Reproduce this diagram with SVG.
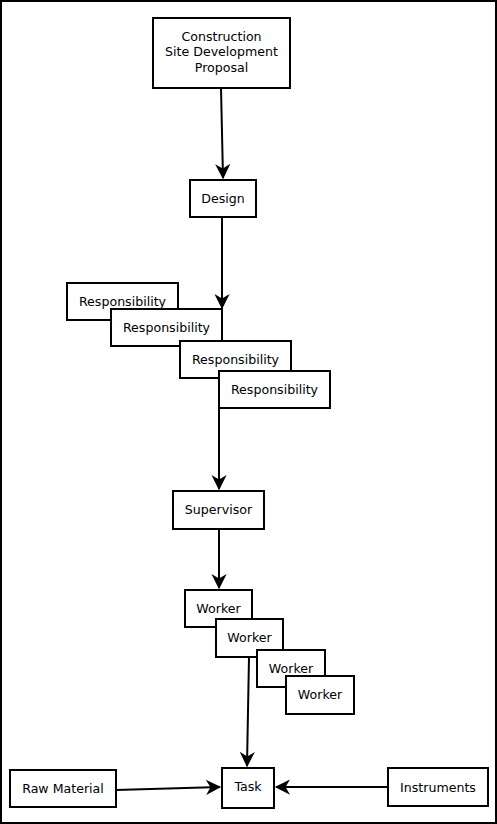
<svg xmlns="http://www.w3.org/2000/svg" width="497" height="824" viewBox="0 0 497 824">
<style>
.b{fill:#fff;stroke:#000;stroke-width:2}
.t{font-family:"DejaVu Sans",sans-serif;font-size:12.6px;fill:#000;text-anchor:middle}
.c{stroke:#000;stroke-width:2;fill:none;marker-end:url(#ah)}
</style>
<defs>
<marker id="ah" viewBox="0 0 10 10" refX="9" refY="5" markerWidth="8" markerHeight="8" markerUnits="userSpaceOnUse" orient="auto" overflow="visible">
<path d="M0,0 L10,5 L0,10 L3,5 Z" fill="#000" transform="scale(1.9) translate(-4.5,-2.4)"/>
</marker>
</defs>
<rect x="1" y="1" width="495" height="822" fill="#fff" stroke="#000" stroke-width="2"/>
<g id="connectors">
<path class="c" d="M221,88 L223,178"/>
<path class="c" d="M222,217 L222,308"/>
<path class="c" d="M219,408 L219,489"/>
<path class="c" d="M219,529 L219,588"/>
<path class="c" d="M249,657 L247,766"/>
<path class="c" d="M116,790 L220,787"/>
<path class="c" d="M388,787 L276,787"/>
</g>
<g id="proposal"><rect class="b" x="153" y="18" width="137" height="70"/><text class="t" x="221.5" y="41">Construction</text><text class="t" x="221.5" y="56">Site Development</text><text class="t" x="221.5" y="72">Proposal</text></g>
<g id="design"><rect class="b" x="190" y="180" width="66" height="37"/><text class="t" x="223" y="202.5">Design</text></g>
<g id="resp1"><rect class="b" x="67" y="283" width="111" height="37"/><text class="t" x="122.5" y="305.5">Responsibility</text></g>
<g id="resp2"><rect class="b" x="111" y="309" width="111" height="37"/><text class="t" x="166.5" y="331.5">Responsibility</text></g>
<g id="resp3"><rect class="b" x="180" y="341" width="111" height="37"/><text class="t" x="235.5" y="363.5">Responsibility</text></g>
<g id="resp4"><rect class="b" x="219" y="371" width="111" height="37"/><text class="t" x="274.5" y="393.5">Responsibility</text></g>
<g id="supervisor"><rect class="b" x="173" y="491" width="91" height="38"/><text class="t" x="218.5" y="514">Supervisor</text></g>
<g id="worker1"><rect class="b" x="185" y="590" width="67" height="37"/><text class="t" x="218.5" y="612.5">Worker</text></g>
<g id="worker2"><rect class="b" x="216" y="619" width="67" height="38"/><text class="t" x="249.5" y="642">Worker</text></g>
<g id="worker3"><rect class="b" x="257" y="650" width="68" height="37"/><text class="t" x="291" y="673">Worker</text></g>
<g id="worker4"><rect class="b" x="286" y="676" width="68" height="38"/><text class="t" x="320" y="699">Worker</text></g>
<g id="task"><rect class="b" x="222" y="768" width="52" height="40"/><text class="t" x="248" y="791">Task</text></g>
<g id="raw"><rect class="b" x="10" y="770" width="106" height="37"/><text class="t" x="63" y="792.5">Raw Material</text></g>
<g id="instruments"><rect class="b" x="388" y="768" width="100" height="38"/><text class="t" x="438" y="791.5">Instruments</text></g>
</svg>
